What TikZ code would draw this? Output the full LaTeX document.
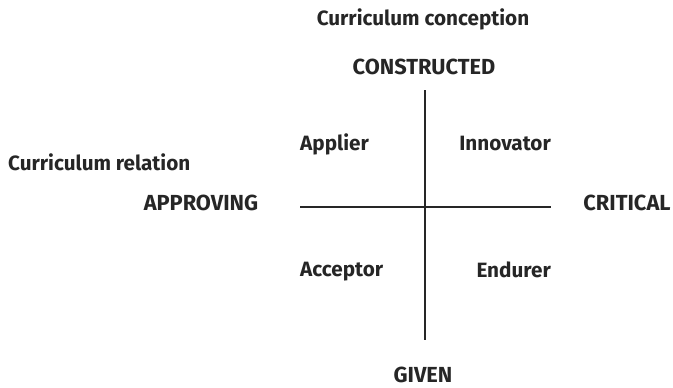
\documentclass[tikz,border=0pt]{standalone}
\usepackage{fontspec}
\setmainfont{Fira Sans}
\begin{document}
\begin{tikzpicture}[x=1pt,y=-1pt,
  lbl/.style={font=\bfseries\fontsize{20.7}{24}\selectfont, inner sep=0pt, text=black!85},
  caplbl/.style={font=\bfseries\fontsize{21.8}{25}\selectfont, inner sep=0pt, text=black!85},
  axis/.style={line width=1.3pt, black!85}]
\useasboundingbox (0,0) rectangle (673,388);
\node[lbl] (cc) at (423,19) {Curriculum conception};
\node[caplbl] (con) at (424,67) {CONSTRUCTED};
\node[lbl, anchor=west] (cr) at (8,162) {Curriculum relation};
\node[caplbl] (app) at (201,203) {APPROVING};
\node[caplbl] (cri) at (627,203) {CRITICAL};
\node[lbl, anchor=west] (apl) at (300,144) {Applier};
\node[lbl, anchor=east] (inn) at (551,144) {Innovator};
\node[lbl, anchor=west] (acc) at (300,272) {Acceptor};
\node[lbl, anchor=east] (end) at (551,270) {Endurer};
\node[caplbl] (giv) at (423,375) {GIVEN};
\coordinate (vt) at (425,90);
\coordinate (vb) at (425,340);
\coordinate (hl) at (300,207);
\coordinate (hr) at (551,207);
\draw[axis] (vt) -- (vb);
\draw[axis] (hl) -- (hr);
\end{tikzpicture}
\end{document}
